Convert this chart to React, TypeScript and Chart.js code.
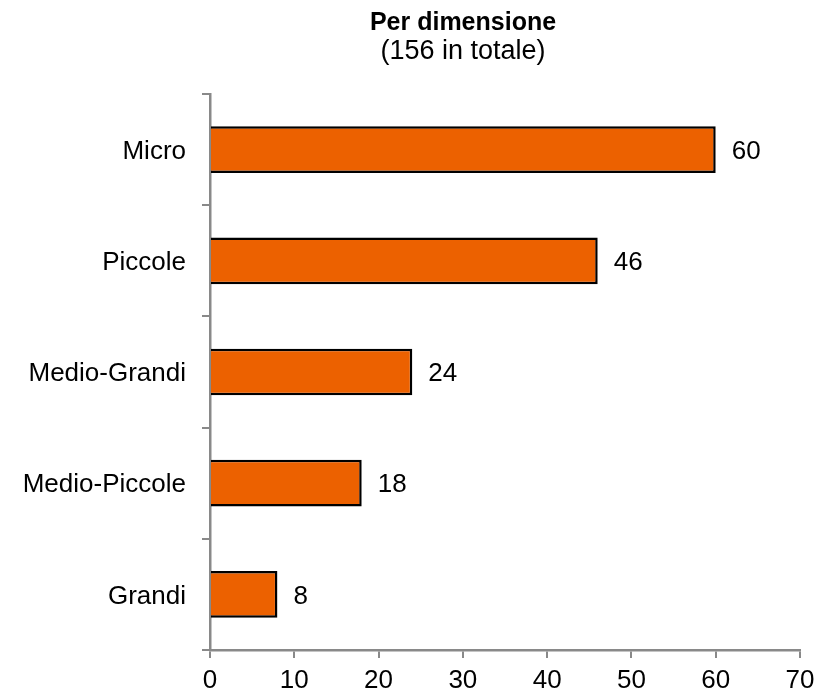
import React, { useEffect, useRef } from "react";
import { Chart, registerables } from "chart.js";

Chart.register(...registerables);

const categories = ["Micro", "Piccole", "Medio-Grandi", "Medio-Piccole", "Grandi"];
const values = [60, 46, 24, 18, 8];
const titleText = "Per dimensione";
const subtitleText = "(156 in totale)";

const FONT = "'Liberation Sans', Arial, sans-serif";
const AXIS = "#898989";

const valueLabels = {
  id: "valueLabels",
  afterDatasetsDraw(chart: any) {
    const ctx = chart.ctx;
    const meta = chart.getDatasetMeta(0);
    ctx.save();
    ctx.font = `26px ${FONT}`;
    ctx.fillStyle = "#000";
    ctx.textAlign = "left";
    ctx.textBaseline = "middle";
    meta.data.forEach((bar: any, i: number) => {
      ctx.fillText(String(values[i]), bar.x + 16, bar.y + 2);
    });
    ctx.restore();
  },
};

const headerText = {
  id: "headerText",
  afterDraw(chart: any) {
    const ctx = chart.ctx;
    ctx.save();
    ctx.fillStyle = "#000";
    ctx.textAlign = "center";
    ctx.textBaseline = "alphabetic";
    ctx.font = `bold 25px ${FONT}`;
    ctx.fillText(titleText, 463, 30);
    ctx.font = `27px ${FONT}`;
    ctx.fillText(subtitleText, 463, 59);
    ctx.restore();
  },
};

export default function App() {
  const ref = useRef<HTMLCanvasElement | null>(null);
  useEffect(() => {
    document.body.style.margin = "0";
    const chart = new Chart(ref.current as HTMLCanvasElement, {
      type: "bar",
      data: {
        labels: categories,
        datasets: [
          {
            data: values,
            backgroundColor: "#EC6100",
            borderColor: "#000",
            borderWidth: 2.5,
            borderSkipped: "start",
            categoryPercentage: 1,
            barPercentage: 0.42,
          },
        ],
      },
      options: {
        indexAxis: "y",
        animation: false,
        responsive: true,
        maintainAspectRatio: false,
        layout: { padding: { top: 94, right: 26, bottom: 0, left: 0 } },
        plugins: {
          legend: { display: false },
          tooltip: { enabled: false },
          title: { display: false },
        },
        scales: {
          x: {
            min: 0,
            max: 70,
            z: 1,
            ticks: {
              stepSize: 10,
              color: "#000",
              font: { family: FONT, size: 26 },
              padding: 7,
              maxRotation: 0,
            },
            grid: {
              drawOnChartArea: false,
              drawTicks: true,
              tickLength: 8,
              color: AXIS,
              lineWidth: 2,
            },
            border: { color: AXIS, width: 2.5 },
            afterFit: (scale: any) => {
              scale.height = 44;
            },
          },
          y: {
            z: 1,
            ticks: {
              color: "#000",
              font: { family: FONT, size: 26 },
              padding: 16,
              labelOffset: 2,
            },
            grid: {
              drawOnChartArea: false,
              drawTicks: true,
              tickLength: 8,
              color: AXIS,
              lineWidth: 2,
              offset: true,
            },
            border: { color: AXIS, width: 2.5 },
            afterFit: (scale: any) => {
              scale.width = 210;
            },
          },
        },
      },
      plugins: [valueLabels, headerText],
    });
    return () => chart.destroy();
  }, []);
  return (
    <div style={{ position: "fixed", left: 0, top: 0, width: 826, height: 694, background: "#fff" }}>
      <canvas ref={ref} />
    </div>
  );
}
